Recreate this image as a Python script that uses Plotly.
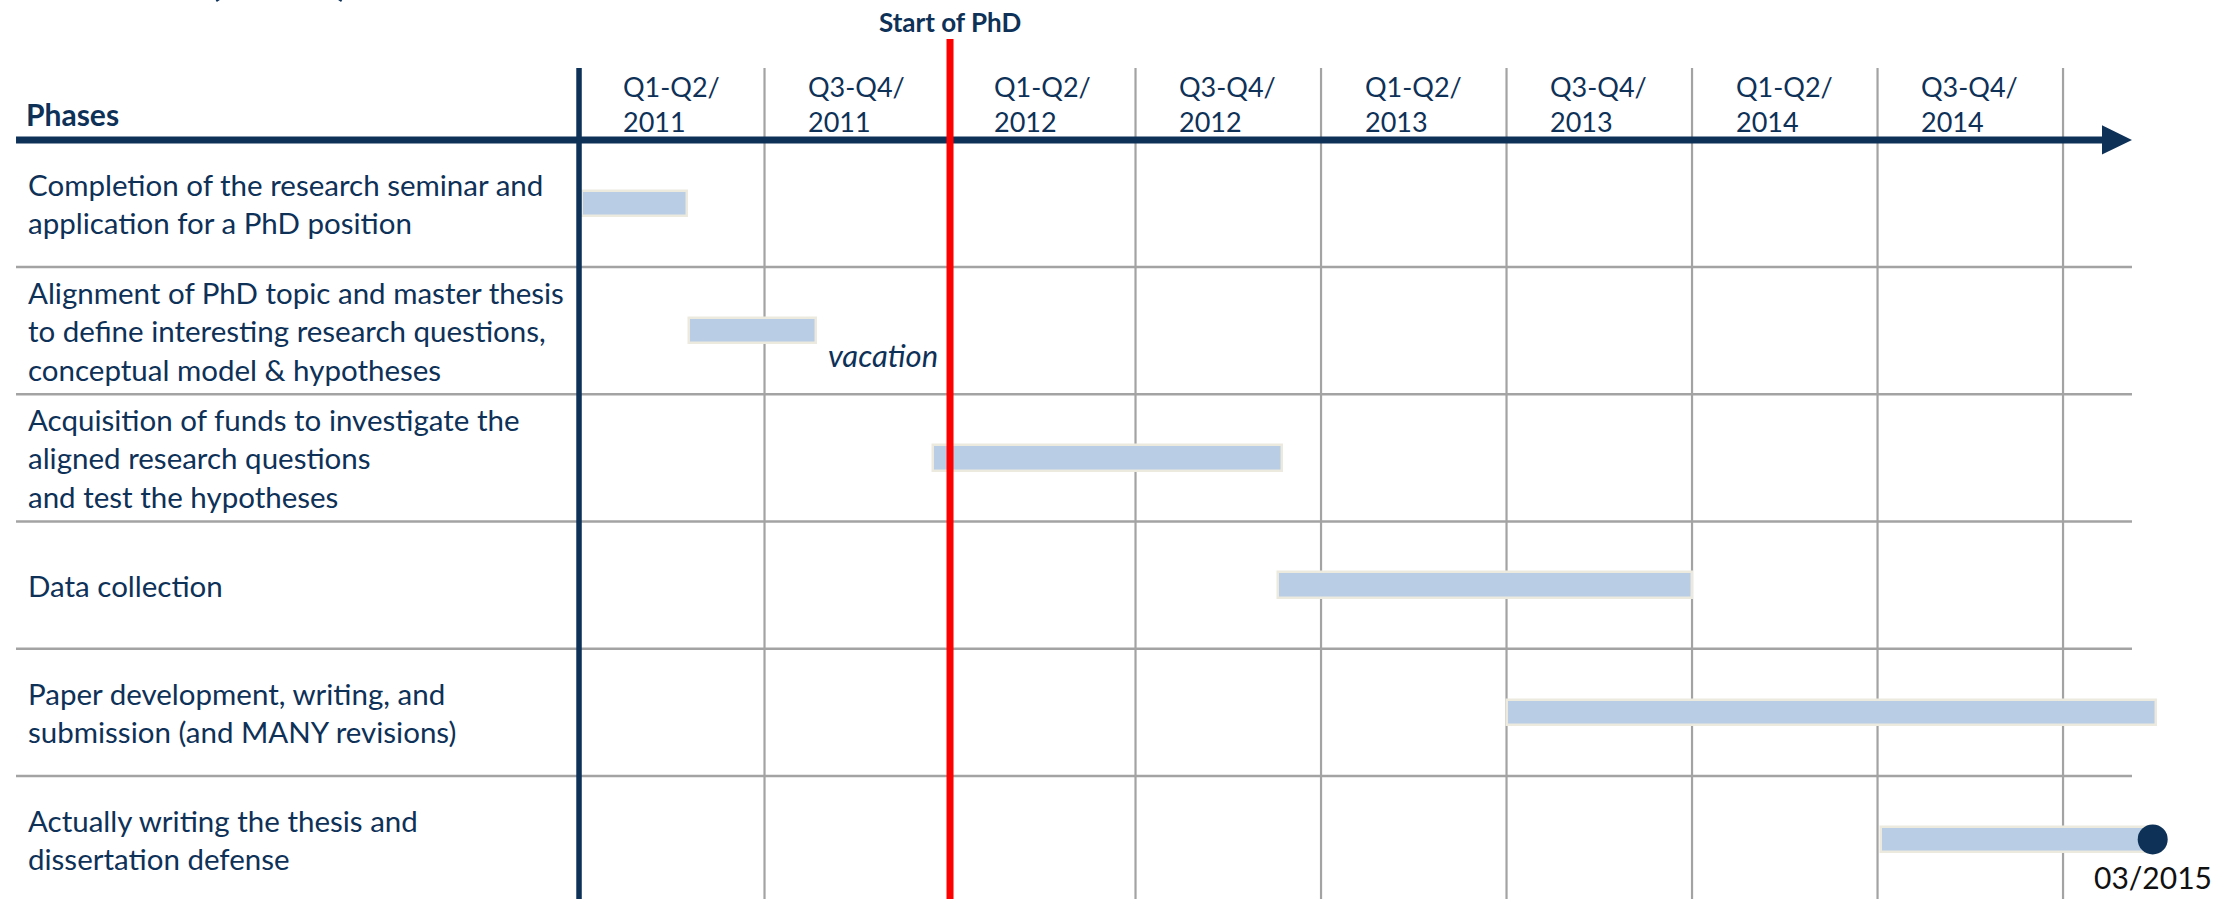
import plotly.graph_objects as go

# ---------------- data ----------------
phases = [
    "Completion of the research seminar and<br>application for a PhD position",
    "Alignment of PhD topic and master thesis<br>to define interesting research questions,<br>conceptual model & hypotheses",
    "Acquisition of funds to investigate the<br>aligned research questions<br>and test the hypotheses",
    "Data collection",
    "Paper development, writing, and<br>submission (and MANY revisions)",
    "Actually writing the thesis and<br>dissertation defense",
]
# months since January 2011
start_month = [0.1, 3.55, 11.45, 22.6, 30.0, 42.1]
end_month = [3.5, 7.65, 22.75, 36.0, 51.0, 50.9]

half_labels = ["Q1-Q2/", "Q3-Q4/"]
years = [2011, 2012, 2013, 2014]
period_labels = [f"{h}<br>{y}" for y in years for h in half_labels]
months_per_period = 6

phd_start_month = 12
phd_start_label = "Start of PhD"
vacation_label = "vacation"
vacation_month = 8.0
milestone_label = "03/2015"
milestone_month = 50.9
header_label = "Phases"
title_fragment = "(1/2)"

# ---------------- style ----------------
NAVY = "#0E3158"
GRAY = "#A3A3A3"
BAR = "#B9CDE5"
BAR_EDGE = "#ECEADF"
FONT = "Lato"
W, H = 2232, 899
X_RANGE = [-18.728, 53.465]
Y_RANGE = [5.468, -1.600]

durations = [e - s for s, e in zip(start_month, end_month)]
ypos = list(range(len(phases)))

fig = go.Figure()
fig.add_trace(go.Bar(
    y=ypos, x=durations, base=start_month, orientation="h",
    width=0.2, marker=dict(color=BAR, line=dict(color=BAR_EDGE, width=2.5)),
    hoverinfo="skip", showlegend=False,
))
fig.add_trace(go.Scatter(
    x=[milestone_month], y=[ypos[-1]], mode="markers",
    marker=dict(size=30, color=NAVY), hoverinfo="skip", showlegend=False,
))

shapes = []
n_periods = len(period_labels)
y_top = -1.066
# gray period grid lines
for k in range(1, n_periods + 1):
    shapes.append(dict(type="line", xref="x", yref="y", x0=k * months_per_period, x1=k * months_per_period,
                       y0=y_top, y1=Y_RANGE[0], line=dict(color=GRAY, width=2.2), layer="below"))
# row separators
x_left, x_tip, x_base = -18.21, 50.23, 49.26
for i in range(len(phases) - 1):
    shapes.append(dict(type="line", xref="x", yref="y", x0=x_left, x1=x_tip, y0=i + 0.5, y1=i + 0.5,
                       line=dict(color=GRAY, width=2.5), layer="below"))
# time axis with arrow
shapes.append(dict(type="line", xref="x", yref="y", x0=x_left, x1=x_base + 0.05, y0=-0.5, y1=-0.5,
                   line=dict(color=NAVY, width=7), layer="above"))
shapes.append(dict(type="path", xref="x", yref="y",
                   path=f"M {x_base},{-0.5 - 0.115} L {x_tip},-0.5 L {x_base},{-0.5 + 0.115} Z",
                   fillcolor=NAVY, line=dict(width=0), layer="above"))
# vertical phase/time separator
shapes.append(dict(type="line", xref="x", yref="y", x0=0, x1=0, y0=y_top, y1=Y_RANGE[0],
                   line=dict(color=NAVY, width=5.5), layer="above"))
# start of PhD
shapes.append(dict(type="line", xref="x", yref="y", x0=phd_start_month, x1=phd_start_month,
                   y0=-1.293, y1=Y_RANGE[0], line=dict(color="#FF0000", width=7), layer="above"))

ann = []
for i, p in enumerate(phases):
    ann.append(dict(text=p, xref="paper", yref="y", x=26 / W, y=i, xanchor="left", yanchor="middle",
                    align="left", showarrow=False, font=dict(family=FONT, size=29.5, color=NAVY)))
ann.append(dict(text=f"<b>{header_label}</b>", xref="paper", yref="y", x=24 / W, y=-0.704,
                xanchor="left", yanchor="middle", showarrow=False,
                font=dict(family=FONT, size=30, color=NAVY)))
for k, lab in enumerate(period_labels):
    ann.append(dict(text=lab, xref="x", yref="y", x=k * months_per_period + 1.35, y=-0.782,
                    xanchor="left", yanchor="middle", align="left", showarrow=False,
                    font=dict(family=FONT, size=27, color=NAVY)))
ann.append(dict(text=f"<b>{phd_start_label}</b>", xref="x", yref="y", x=phd_start_month, y=-1.43,
                xanchor="center", yanchor="middle", showarrow=False,
                font=dict(family=FONT, size=26, color=NAVY)))
ann.append(dict(text=f"<i>{vacation_label}</i>", xref="x", yref="y", x=vacation_month, y=1.19,
                xanchor="left", yanchor="middle", showarrow=False,
                font=dict(family=FONT, size=31, color=NAVY)))
ann.append(dict(text=milestone_label, xref="x", yref="y", x=milestone_month, y=5.295,
                xanchor="center", yanchor="middle", showarrow=False,
                font=dict(family=FONT, size=30, color="#111111")))
ann.append(dict(text=f"<b>{title_fragment}</b>", xref="paper", yref="paper", x=203 / W, y=1 - 6.5 / H,
                xanchor="left", yanchor="bottom", showarrow=False,
                font=dict(family=FONT, size=68, color=NAVY)))

fig.update_layout(
    width=W, height=H, margin=dict(l=0, r=0, t=0, b=0),
    paper_bgcolor="white", plot_bgcolor="white",
    xaxis=dict(range=X_RANGE, visible=False, fixedrange=True),
    yaxis=dict(range=Y_RANGE, visible=False, fixedrange=True),
    shapes=shapes, annotations=ann, bargap=0,
)

fig.write_html("out.html", config={"displayModeBar": False},
               post_script="document.body.style.margin='0';document.body.style.overflow='hidden';")
